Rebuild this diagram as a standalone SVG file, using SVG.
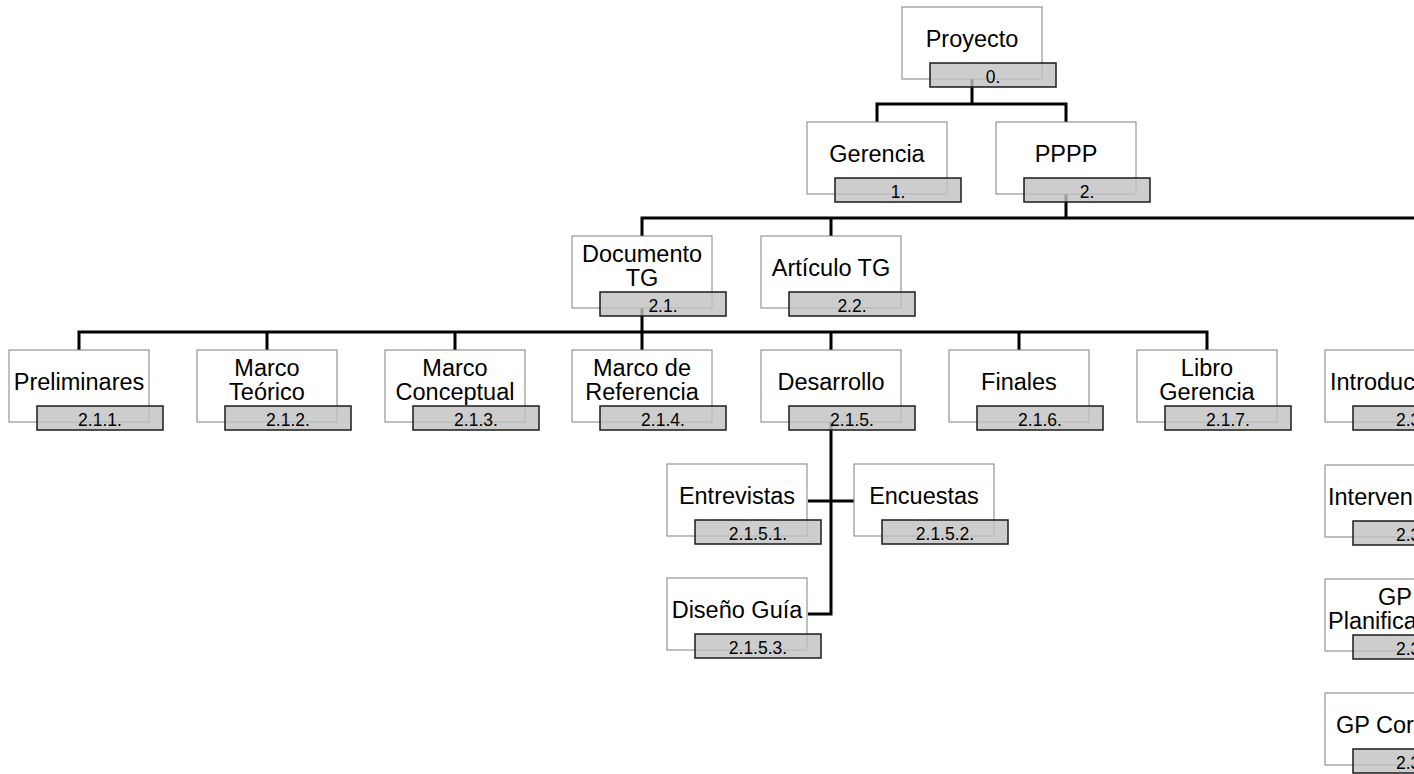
<svg xmlns="http://www.w3.org/2000/svg" width="1414" height="774" viewBox="0 0 1414 774">
<style>
.box{fill:#fff;stroke:#808080;stroke-width:1}
.tag{fill:#c0c0c0;fill-opacity:0.8;stroke:#1a1a1a;stroke-width:1.5}
.name{font-family:"Liberation Sans",Arial,sans-serif;font-size:23.5px;fill:#000;text-anchor:middle}
.num{font-family:"Liberation Sans",Arial,sans-serif;font-size:17.5px;fill:#000;text-anchor:middle}
.st{text-anchor:start}
.conn{fill:none;stroke:#000;stroke-width:3}
</style>
<rect width="1414" height="774" fill="#fff"/>
<g id="connectors" class="conn">
<path d="M972,79V104M877,122V104H1066V122"/>
<path d="M1066,193V218M642,236V218H1414M831,218V236"/>
<path d="M642,308V332M79,350V332H1207V350M267,332V350M455,332V350M642,332V350M831,332V350M1019,332V350"/>
<path d="M831,422V614H808M808,501H854"/>
</g>
<g id="n0"><rect class="box" x="902" y="7" width="140" height="72"/><rect class="tag" x="930" y="63" width="126" height="24"/><text class="name" x="972" y="47">Proyecto</text><text class="num" x="993" y="83">0.</text></g>
<g id="n1"><rect class="box" x="807" y="122" width="140" height="72"/><rect class="tag" x="835" y="178" width="126" height="24"/><text class="name" x="877" y="162">Gerencia</text><text class="num" x="898" y="198">1.</text></g>
<g id="n2"><rect class="box" x="996" y="122" width="140" height="72"/><rect class="tag" x="1024" y="178" width="126" height="24"/><text class="name" x="1066" y="162">PPPP</text><text class="num" x="1087" y="198">2.</text></g>
<g id="n2_1"><rect class="box" x="572" y="236" width="140" height="72"/><rect class="tag" x="600" y="292" width="126" height="24"/><text class="name" x="642" y="262">Documento</text><text class="name" x="642" y="286">TG</text><text class="num" x="663" y="312">2.1.</text></g>
<g id="n2_2"><rect class="box" x="761" y="236" width="140" height="72"/><rect class="tag" x="789" y="292" width="126" height="24"/><text class="name" x="831" y="276">Artículo TG</text><text class="num" x="852" y="312">2.2.</text></g>
<g id="n2_1_1"><rect class="box" x="9" y="350" width="140" height="72"/><rect class="tag" x="37" y="406" width="126" height="24"/><text class="name" x="79" y="390">Preliminares</text><text class="num" x="100" y="426">2.1.1.</text></g>
<g id="n2_1_2"><rect class="box" x="197" y="350" width="140" height="72"/><rect class="tag" x="225" y="406" width="126" height="24"/><text class="name" x="267" y="376">Marco</text><text class="name" x="267" y="400">Teórico</text><text class="num" x="288" y="426">2.1.2.</text></g>
<g id="n2_1_3"><rect class="box" x="385" y="350" width="140" height="72"/><rect class="tag" x="413" y="406" width="126" height="24"/><text class="name" x="455" y="376">Marco</text><text class="name" x="455" y="400">Conceptual</text><text class="num" x="476" y="426">2.1.3.</text></g>
<g id="n2_1_4"><rect class="box" x="572" y="350" width="140" height="72"/><rect class="tag" x="600" y="406" width="126" height="24"/><text class="name" x="642" y="376">Marco de</text><text class="name" x="642" y="400">Referencia</text><text class="num" x="663" y="426">2.1.4.</text></g>
<g id="n2_1_5"><rect class="box" x="761" y="350" width="140" height="72"/><rect class="tag" x="789" y="406" width="126" height="24"/><text class="name" x="831" y="390">Desarrollo</text><text class="num" x="852" y="426">2.1.5.</text></g>
<g id="n2_1_6"><rect class="box" x="949" y="350" width="140" height="72"/><rect class="tag" x="977" y="406" width="126" height="24"/><text class="name" x="1019" y="390">Finales</text><text class="num" x="1040" y="426">2.1.6.</text></g>
<g id="n2_1_7"><rect class="box" x="1137" y="350" width="140" height="72"/><rect class="tag" x="1165" y="406" width="126" height="24"/><text class="name" x="1207" y="376">Libro</text><text class="name" x="1207" y="400">Gerencia</text><text class="num" x="1228" y="426">2.1.7.</text></g>
<g id="n2_1_5_1"><rect class="box" x="667" y="464" width="140" height="72"/><rect class="tag" x="695" y="520" width="126" height="24"/><text class="name" x="737" y="504">Entrevistas</text><text class="num" x="758" y="540">2.1.5.1.</text></g>
<g id="n2_1_5_2"><rect class="box" x="854" y="464" width="140" height="72"/><rect class="tag" x="882" y="520" width="126" height="24"/><text class="name" x="924" y="504">Encuestas</text><text class="num" x="945" y="540">2.1.5.2.</text></g>
<g id="n2_1_5_3"><rect class="box" x="667" y="578" width="140" height="72"/><rect class="tag" x="695" y="634" width="126" height="24"/><text class="name" x="737" y="618">Diseño Guía</text><text class="num" x="758" y="654">2.1.5.3.</text></g>
<g id="n2_3_1"><rect class="box" x="1325" y="350" width="140" height="72"/><rect class="tag" x="1353" y="406" width="126" height="24"/><text class="name st" x="1330" y="390">Introduc</text><text class="num st" x="1396" y="426">2.3</text></g>
<g id="n2_3_2"><rect class="box" x="1325" y="465" width="140" height="72"/><rect class="tag" x="1353" y="521" width="126" height="24"/><text class="name st" x="1328" y="505">Interven</text><text class="num st" x="1396" y="541">2.3</text></g>
<g id="n2_3_3"><rect class="box" x="1325" y="579" width="140" height="72"/><rect class="tag" x="1353" y="635" width="126" height="24"/><text class="name" x="1395" y="605">GP</text><text class="name st" x="1328" y="629">Planifica</text><text class="num st" x="1396" y="655">2.3</text></g>
<g id="n2_3_4"><rect class="box" x="1325" y="693" width="140" height="72"/><rect class="tag" x="1353" y="749" width="126" height="24"/><text class="name st" x="1336" y="733">GP Cor</text><text class="num st" x="1396" y="769">2.3</text></g>
</svg>
